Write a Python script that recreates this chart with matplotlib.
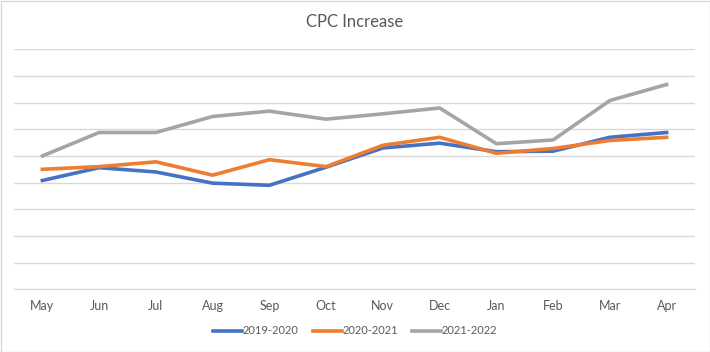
import matplotlib.pyplot as plt
from matplotlib.patches import Rectangle

plt.rcParams['font.family'] = ['Lato', 'DejaVu Sans']

months = ['May', 'Jun', 'Jul', 'Aug', 'Sep', 'Oct', 'Nov', 'Dec', 'Jan', 'Feb', 'Mar', 'Apr']
s2019 = [20.4, 22.8, 22.0, 19.9, 19.5, 22.9, 26.5, 27.4, 25.8, 25.9, 28.5, 29.4]
s2020 = [22.5, 23.0, 23.9, 21.4, 24.3, 23.0, 27.0, 28.5, 25.5, 26.4, 27.9, 28.5]
s2021 = [25.0, 29.4, 29.4, 32.4, 33.4, 31.9, 32.9, 34.0, 27.3, 28.0, 35.4, 38.4]
labels = ['2019-2020', '2020-2021', '2021-2022']
colors = ['#4472C4', '#ED7D31', '#A5A5A5']

fig = plt.figure(figsize=(7.1, 3.52), dpi=100)
ax = fig.add_axes([14 / 710, 62.7 / 352, 681 / 710, 240 / 352])

x = range(len(months))
for data, lab, col in zip([s2019, s2020, s2021], labels, colors):
    ax.plot(x, data, color=col, lw=2.6, label=lab, solid_joinstyle='round', zorder=3)

ax.set_xlim(-0.5, len(months) - 0.5)
ax.set_ylim(0, 45)
ax.set_yticks(range(0, 46, 5))
ax.set_yticklabels([])
ax.grid(axis='y', color='#D9D9D9', lw=1)
ax.set_xticks(list(x))
ax.set_xticklabels(months, color='#595959', fontsize=9)
ax.tick_params(length=0, pad=8)
for side in ['top', 'left', 'right']:
    ax.spines[side].set_visible(False)
ax.spines['bottom'].set_color('#D9D9D9')

fig.text(0.5, 1 - 22 / 352, 'CPC Increase', ha='center', va='center',
         fontsize=12, color='#595959')

fig.legend(loc='center', bbox_to_anchor=(0.5, 1 - 331 / 352), ncol=3, frameon=False,
           fontsize=8, labelcolor='#595959', handlelength=2.6, handletextpad=0.05,
           columnspacing=1.3)

fig.patches.append(Rectangle((0.5 / 710, 0.5 / 352), 709 / 710, 351 / 352,
                             transform=fig.transFigure, fill=False,
                             edgecolor='#D9D9D9', lw=1))

fig.savefig('out.png', dpi=100)
